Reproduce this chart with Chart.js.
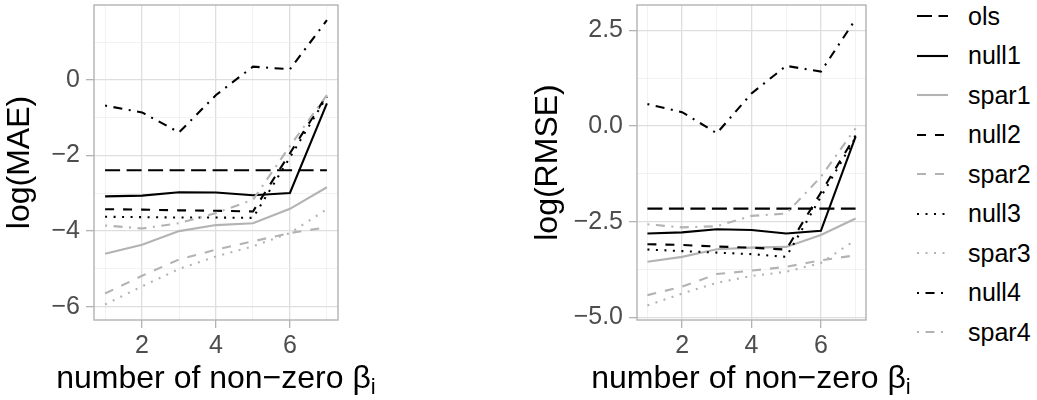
<!DOCTYPE html>
<html>
<head>
<meta charset="utf-8">
<script src="https://cdn.jsdelivr.net/npm/chart.js@4.4.1/dist/chart.umd.min.js"></script>
<style>
    body { margin: 0; background: #ffffff; }
    #wrap { position: relative; width: 1037px; height: 400px; font-family: "Liberation Sans", Arial, sans-serif; }
    canvas { position: absolute; top: 0; }
    .xtitle { position: absolute; top: 361px; width: 400px; text-align: center; font-size: 32px; line-height: 1; color: #000; white-space: nowrap; }
    .xtitle span { font-size: 22px; position: relative; top: 6px; }
    #legend { position: absolute; left: 917px; top: 0; }
    .item { position: absolute; left: 0; height: 30px; display: flex; align-items: center; white-space: nowrap; font-size: 25px; color: #000; }
    .item svg { width: 31px; height: 10px; margin-right: 20px; }
</style>
</head>
<body>
<div id="wrap">
    <canvas id="chartMAE" width="345" height="400" style="left:0px;"></canvas>
    <canvas id="chartRMSE" width="353" height="400" style="left:520px;"></canvas>
    <div class="xtitle" style="left:16px;">number of non&minus;zero &beta;<span>i</span></div>
    <div class="xtitle" style="left:551px;">number of non&minus;zero &beta;<span>i</span></div>
    <div id="legend"></div>
</div>
<script>
// data
const xValues = [1, 2, 3, 4, 5, 6, 7];
const seriesNames = ['ols', 'null1', 'spar1', 'null2', 'spar2', 'null3', 'spar3', 'null4', 'spar4'];

// panel kiri: log(MAE)
const maeOls   = [-2.39, -2.39, -2.39, -2.39, -2.39, -2.39, -2.39];
const maeNull1 = [-3.08, -3.06, -2.97, -2.98, -3.05, -2.99, -0.62];
const maeSpar1 = [-4.60, -4.36, -4.00, -3.84, -3.79, -3.41, -2.84];
const maeNull2 = [-3.42, -3.43, -3.45, -3.46, -3.48, -1.94, -0.40];
const maeSpar2 = [-5.65, -5.18, -4.75, -4.49, -4.27, -4.05, -3.90];
const maeNull3 = [-3.62, -3.63, -3.64, -3.64, -3.65, -2.05, -0.44];
const maeSpar3 = [-5.94, -5.46, -5.00, -4.67, -4.40, -4.05, -3.42];
const maeNull4 = [-0.68, -0.86, -1.39, -0.40, 0.35, 0.28, 1.58];
const maeSpar4 = [-3.85, -3.93, -3.79, -3.52, -3.17, -1.75, -0.40];

// panel kanan: log(RMSE)
const rmseOls   = [-2.16, -2.16, -2.16, -2.16, -2.16, -2.16, -2.16];
const rmseNull1 = [-2.81, -2.78, -2.70, -2.72, -2.81, -2.74, -0.28];
const rmseSpar1 = [-3.55, -3.42, -3.22, -3.18, -3.16, -2.85, -2.42];
const rmseNull2 = [-3.09, -3.11, -3.15, -3.18, -3.23, -1.74, -0.25];
const rmseSpar2 = [-4.42, -4.20, -3.87, -3.78, -3.68, -3.51, -3.38];
const rmseNull3 = [-3.23, -3.27, -3.31, -3.35, -3.42, -1.85, -0.30];
const rmseSpar3 = [-4.69, -4.38, -4.10, -3.92, -3.81, -3.58, -2.98];
const rmseNull4 = [0.57, 0.36, -0.19, 0.85, 1.57, 1.42, 2.79];
const rmseSpar4 = [-2.57, -2.65, -2.62, -2.35, -2.29, -1.33, -0.06];

const xTicks = [2, 4, 6];
const maeTicks = [-6, -4, -2, 0];
const rmseTicks = [-5, -2.5, 0, 2.5];

const maeSeries = [maeOls, maeNull1, maeSpar1, maeNull2, maeSpar2, maeNull3, maeSpar3, maeNull4, maeSpar4];
const rmseSeries = [rmseOls, rmseNull1, rmseSpar1, rmseNull2, rmseSpar2, rmseNull3, rmseSpar3, rmseNull4, rmseSpar4];

// gaya garis ala ggplot (linetype)
const FONT = '"Liberation Sans", Arial, sans-serif';
const BLACK = '#000000';
const GREY = '#b3b3b3';
const DASH = {
    solid: [],
    longdash: [15, 6.5],
    dashed: [9, 9],
    dotted: [2, 6.5],
    dotdash: [2, 6.5, 9, 6.5]
};
const seriesColors = [BLACK, BLACK, GREY, BLACK, GREY, BLACK, GREY, BLACK, GREY];
const seriesLines = ['longdash', 'solid', 'solid', 'dashed', 'dashed', 'dotted', 'dotted', 'dotdash', 'dotdash'];

const minus = v => (v < 0 ? '\u2212' : '') + Math.abs(v);
const near = (list, v) => list.some(t => Math.abs(t - v) < 1e-6);

// bingkai panel (panel.border)
const panelBorder = {
    id: 'panelBorder',
    afterDatasetsDraw(chart) {
        const { ctx, chartArea: a } = chart;
        ctx.save();
        ctx.strokeStyle = '#b3b3b3';
        ctx.lineWidth = 1.4;
        ctx.strokeRect(a.left, a.top, a.right - a.left, a.bottom - a.top);
        ctx.restore();
    }
};

const gridFor = list => ({
    color: c => (c.tick && near(list, c.tick.value)) ? '#dedede' : '#ececec',
    lineWidth: c => (c.tick && near(list, c.tick.value)) ? 1.3 : 0.7,
    tickColor: c => (c.tick && near(list, c.tick.value)) ? '#b3b3b3' : 'rgba(0,0,0,0)',
    tickLength: 8,
    tickWidth: 1.3
});

function drawPanel(canvasId, series, cfg) {
    const datasets = series.map((vals, i) => ({
        label: seriesNames[i],
        data: xValues.map((x, j) => ({ x: x, y: vals[j] })),
        borderColor: seriesColors[i],
        borderDash: DASH[seriesLines[i]],
        borderWidth: 2.1,
        borderCapStyle: 'butt',
        pointRadius: 0,
        tension: 0,
        fill: false,
        order: series.length - i
    }));

    new Chart(document.getElementById(canvasId), {
        type: 'line',
        data: { datasets: datasets },
        options: {
            responsive: false,
            animation: false,
            layout: { autoPadding: false, padding: { top: 5, right: 7, left: 0, bottom: 0 } },
            plugins: { legend: { display: false }, tooltip: { enabled: false } },
            scales: {
                x: {
                    type: 'linear',
                    min: 0.7,
                    max: 7.3,
                    afterFit: s => { s.height = 80; s.paddingLeft = 0; s.paddingRight = 0; },
                    ticks: {
                        stepSize: 1,
                        includeBounds: false,
                        autoSkip: false,
                        maxRotation: 0,
                        padding: 3,
                        color: '#4d4d4d',
                        font: { size: 25, family: FONT },
                        callback: v => near(xTicks, v) ? String(v) : ''
                    },
                    grid: gridFor(xTicks),
                    border: { display: false },
                    title: { display: false }
                },
                y: {
                    min: cfg.min,
                    max: cfg.max,
                    afterFit: s => { s.width = cfg.axisWidth; s.paddingTop = 0; s.paddingBottom = 0; },
                    ticks: {
                        stepSize: cfg.step,
                        includeBounds: false,
                        autoSkip: false,
                        padding: 6,
                        color: '#4d4d4d',
                        font: { size: 25, family: FONT },
                        callback: v => near(cfg.ticks, v) ? cfg.format(v) : ''
                    },
                    grid: gridFor(cfg.ticks),
                    border: { display: false },
                    title: {
                        display: true,
                        text: cfg.title,
                        color: '#000',
                        font: { size: 32, family: FONT },
                        padding: { top: cfg.titlePad, bottom: 0 }
                    }
                }
            }
        },
        plugins: [panelBorder]
    });
}

drawPanel('chartMAE', maeSeries, {
    min: -6.35, max: 1.98, step: 1, ticks: maeTicks,
    format: v => minus(v), title: 'log(MAE)', axisWidth: 94, titlePad: 1
});

drawPanel('chartRMSE', rmseSeries, {
    min: -5.07, max: 3.16, step: 1.25, ticks: rmseTicks,
    format: v => (v < 0 ? '\u2212' : '') + Math.abs(v).toFixed(1), title: 'log(RMSE)', axisWidth: 117, titlePad: 9
});

// legenda manual di sebelah kanan
const legend = document.getElementById('legend');
seriesNames.forEach((name, i) => {
    const dash = DASH[seriesLines[i]].join(' ');
    const item = document.createElement('div');
    item.className = 'item';
    item.style.top = (16 + i * 39.5 - 15) + 'px';
    item.innerHTML = `<svg viewBox="0 0 31 10"><line x1="0" y1="5" x2="31" y2="5" stroke="${seriesColors[i]}" stroke-width="2.1" stroke-dasharray="${dash}"/></svg><span>${name}</span>`;
    legend.appendChild(item);
});
</script>
</body>
</html>
